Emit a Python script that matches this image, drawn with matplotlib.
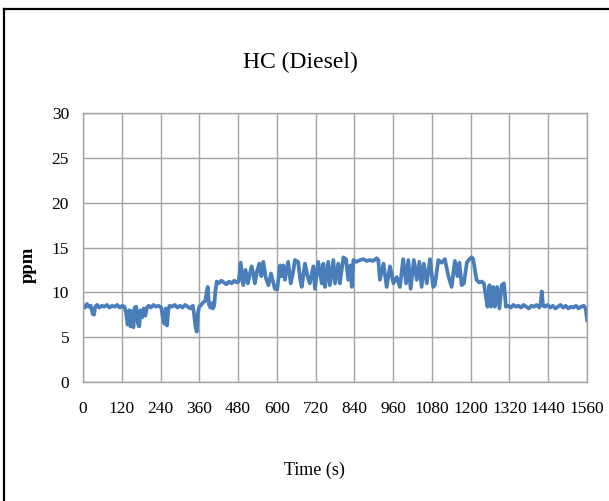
import matplotlib
matplotlib.use('Agg')
import matplotlib.pyplot as plt
from matplotlib.lines import Line2D

# HC concentration over the diesel test run (s, ppm)
time_s = [
    0, 6, 12, 18, 24, 30, 34, 38, 44, 50, 58, 66, 74, 82, 90, 98, 106, 114, 122, 128,
    133, 138, 143, 147, 152, 156, 160, 165, 170, 174, 178, 183, 188, 193, 198, 203,
    210, 218, 226, 234, 242,
    248, 252, 256, 260, 264, 268,
    276, 284, 292, 300, 308, 316, 324, 332, 340,
    344, 348, 352, 356, 360,
    366, 372, 378, 382, 386, 390, 394, 398, 402, 406, 410, 414,
    420, 428, 436, 444, 452, 460, 468, 476,
    482, 488, 496, 503, 510, 516, 522, 527, 532, 539, 546, 552, 558, 566, 574, 582,
    588, 594, 601, 610, 615, 620, 625, 635, 643, 650, 656, 666, 672, 677, 687, 695,
    702, 713, 718, 728, 739, 744, 749, 759, 764, 775, 780, 790, 795, 806, 814, 821,
    828, 832, 837,
    847, 857, 868, 878, 888, 898, 909, 914, 919,
    930, 940, 950, 961, 971, 981, 991, 1000, 1007, 1014, 1024, 1033, 1041, 1048,
    1055, 1064, 1074, 1084, 1089, 1100, 1110, 1120, 1131, 1141, 1151, 1159, 1165,
    1172, 1179, 1188, 1196, 1203, 1208, 1213, 1218, 1226, 1234, 1241, 1247, 1252,
    1258, 1263, 1270, 1275, 1282, 1289, 1296, 1303, 1309,
    1316, 1324, 1332, 1340, 1348, 1356, 1364, 1372, 1380, 1388, 1396, 1404, 1412,
    1416, 1420, 1424, 1430, 1438, 1446, 1454, 1462, 1470, 1478, 1486, 1494, 1502,
    1510, 1518, 1526, 1534, 1542, 1550, 1556, 1560,
]
hc_ppm = [
    8.6, 8.3, 8.7, 8.4, 8.5, 7.6, 7.5, 8.4, 8.6, 8.3, 8.5, 8.4, 8.6, 8.3, 8.5, 8.4, 8.6, 8.3, 8.5, 8.4,
    7.8, 6.4, 8.0, 6.2, 7.9, 6.1, 8.3, 8.4, 6.5, 6.2, 8.0, 7.2, 8.2, 7.4, 8.3, 8.5,
    8.3, 8.6, 8.4, 8.5, 8.3,
    7.0, 6.5, 8.2, 6.3, 8.0, 8.5,
    8.4, 8.6, 8.3, 8.5, 8.3, 8.6, 8.4, 8.2, 8.5,
    7.5, 6.2, 5.6, 7.8, 8.4,
    8.6, 8.9, 9.0, 9.8, 10.6, 8.6, 8.3, 8.8, 8.2, 8.5, 10.2, 11.2,
    11.0, 11.3, 11.1, 10.9, 11.2, 11.0, 11.3, 11.1,
    11.2, 13.3, 10.8, 12.5, 11.0, 12.0, 12.9, 12.1, 11.0, 12.4, 13.2, 11.8, 13.4, 11.6, 10.8, 12.1,
    11.2, 10.4, 10.3, 13.0, 11.8, 13.0, 11.4, 13.4, 11.0, 12.2, 13.6, 13.4, 11.5, 10.6, 13.2, 11.8,
    11.0, 12.9, 10.4, 13.4, 11.0, 13.2, 10.6, 13.4, 10.8, 13.6, 11.0, 13.2, 11.0, 13.9, 13.7, 11.4,
    13.0, 10.6, 13.6,
    13.4, 13.6, 13.7, 13.5, 13.6, 13.5, 13.8, 13.6, 11.4,
    13.2, 10.6, 12.9, 11.0, 11.7, 10.6, 13.7, 11.0, 13.6, 10.4, 13.6, 11.4, 13.4, 10.6,
    13.2, 11.0, 13.7, 10.6, 10.8, 13.6, 13.3, 13.7, 11.8, 10.6, 13.5, 11.8, 13.3,
    10.8, 11.0, 13.3, 13.7, 13.9, 13.7, 12.5, 11.4, 11.1, 11.2, 11.0, 9.5, 8.4,
    10.8, 8.4, 10.6, 8.4, 10.6, 8.2, 10.8, 11.0, 8.4,
    8.5, 8.3, 8.6, 8.4, 8.5, 8.3, 8.6, 8.4, 8.2, 8.5, 8.4, 8.6, 8.3,
    8.6, 10.1, 8.5, 8.4, 8.6, 8.3, 8.5, 8.2, 8.4, 8.6, 8.3, 8.5, 8.2,
    8.4, 8.3, 8.5, 8.2, 8.4, 8.5, 8.2, 6.9,
]

x_ticks = list(range(0, 1561, 120))
y_ticks = [0, 5, 10, 15, 20, 25, 30]

W, H = 609, 501
fig = plt.figure(figsize=(W / 100, H / 100), dpi=100)
ax = fig.add_axes([83 / W, 1 - 382 / H, (587 - 83) / W, (382 - 113) / H])

ax.plot(time_s, hc_ppm, color='#4a7ebb', linewidth=2.7, solid_joinstyle='round')

ax.set_xlim(0, 1560)
ax.set_ylim(0, 30)
ax.set_xticks(x_ticks)
ax.set_yticks(y_ticks)
ax.grid(True, color='#a3a3a3', linewidth=1.0)
ax.set_axisbelow(True)
for sp in ax.spines.values():
    sp.set_color('#a3a3a3')
    sp.set_linewidth(1.0)
ax.tick_params(length=0, labelsize=12.5, labelcolor='black')
ax.tick_params(axis='x', pad=14)
ax.tick_params(axis='y', pad=10)
for lbl in ax.get_xticklabels() + ax.get_yticklabels():
    lbl.set_fontfamily('Liberation Serif')

fig.text(300 / W, 1 - 62 / H, 'HC (Diesel)', ha='center', va='center',
         fontsize=17, family='Liberation Serif')
fig.text(314 / W, 1 - 470 / H, 'Time (s)', ha='center', va='center',
         fontsize=13, family='Liberation Serif')
fig.text(28 / W, 1 - 265 / H, 'ppm', ha='center', va='center', rotation=90,
         fontsize=13.5, fontweight='bold', family='Liberation Serif')

# frame lines on the top and left edges
fig.add_artist(Line2D([4 / W, 1], [1 - 9 / H, 1 - 9 / H], color='black', linewidth=1.6))
fig.add_artist(Line2D([4 / W, 4 / W], [0, 1 - 9 / H], color='black', linewidth=1.6))

fig.savefig('out.png', dpi=100)
